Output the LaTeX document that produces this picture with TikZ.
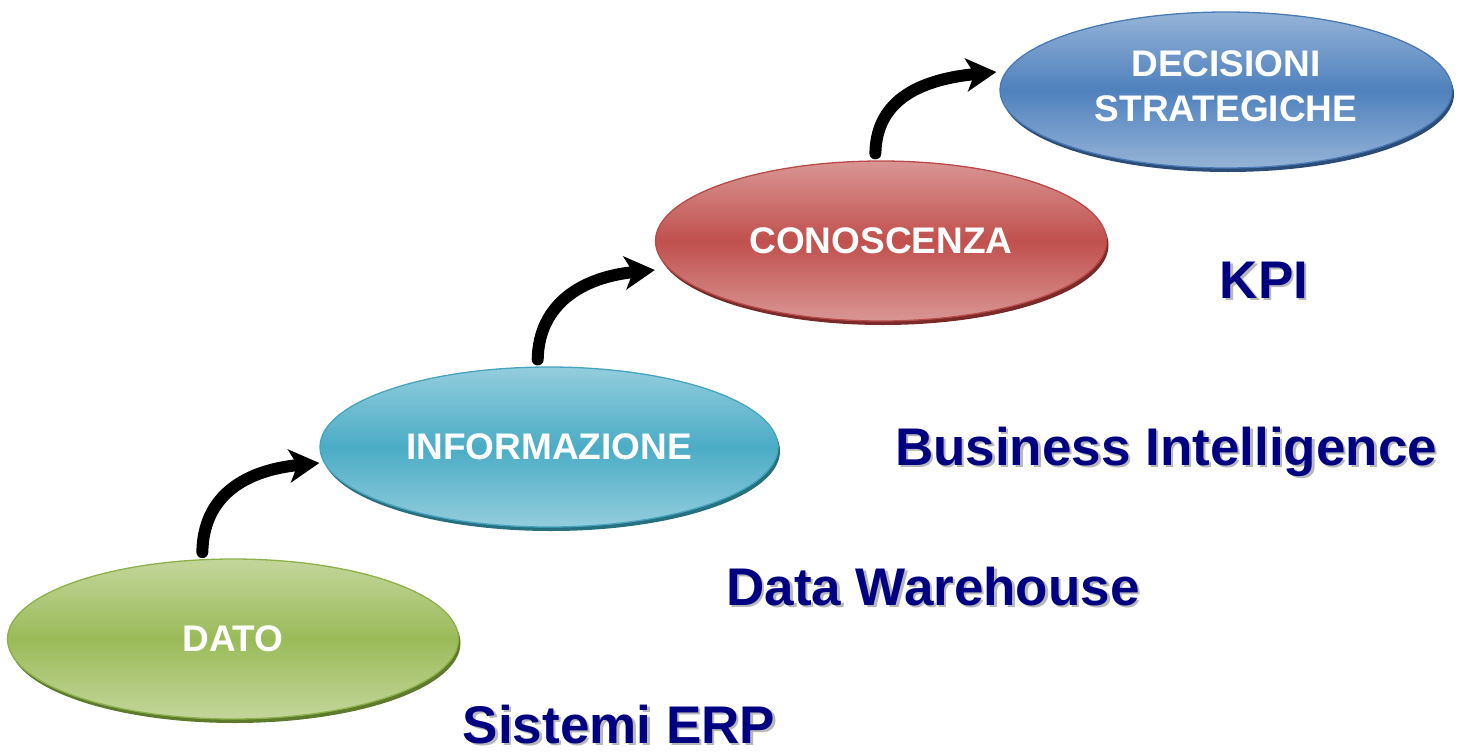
\documentclass[tikz,border=0pt]{standalone}
\usepackage{fontspec}
\setmainfont{Liberation Sans}
\usetikzlibrary{arrows.meta,shadows,shapes.geometric}
\definecolor{greenL}{HTML}{C3D69B}\definecolor{greenM}{HTML}{9BBB59}\definecolor{greenD}{HTML}{8CB04A}\definecolor{greenS}{HTML}{5E7A2C}
\definecolor{tealL}{HTML}{93CDDD}\definecolor{tealM}{HTML}{4BACC6}\definecolor{tealD}{HTML}{46A4BE}\definecolor{tealS}{HTML}{26707F}
\definecolor{redL}{HTML}{D99694}\definecolor{redM}{HTML}{C0504D}\definecolor{redD}{HTML}{B84A47}\definecolor{redS}{HTML}{7A2B29}
\definecolor{blueL}{HTML}{95B3D7}\definecolor{blueM}{HTML}{4F81BD}\definecolor{blueD}{HTML}{4A7AB5}\definecolor{blueS}{HTML}{2C4D78}
\definecolor{navyT}{HTML}{000080}\definecolor{shadowT}{HTML}{B8B8B8}
\newcommand\shtext[1]{\leavevmode\rlap{\kern2.5pt\raisebox{-2.5pt}{\color{shadowT}#1}}#1}
\tikzset{
  stage/.style={ellipse, inner sep=0pt, minimum width=451pt, minimum height=160pt,
    draw=#1D, line width=1.3pt, top color=#1L, bottom color=#1L, middle color=#1M,
    drop shadow={shadow xshift=2pt, shadow yshift=-4pt, fill=#1S, opacity=1},
    text=white, align=center, font=\bfseries\fontsize{37}{45}\selectfont},
  levellabel/.style={anchor=base, inner sep=0pt, outer sep=0pt, text=navyT, text depth=0pt, font=\bfseries\fontsize{53}{60}\selectfont},
  flow/.style={line width=12pt, line cap=round, -{Stealth[length=30pt,width=33pt,inset=8pt]}}
}
\begin{document}
\begin{tikzpicture}[x=1pt,y=-1pt]
\useasboundingbox (0,0) rectangle (1463,755);
\node[stage=green] (dato) at (233,639) {DATO};
\node[stage=teal, minimum width=458pt] (info) at (549,447) {INFORMAZIONE};
\node[stage=red] (cono) at (881,241) {CONOSCENZA};
\node[stage=blue, minimum width=452pt, minimum height=156pt] (deci) at (1226,90) {\raisebox{4pt}{\begin{tabular}{@{}c@{}}DECISIONI\\[0pt]STRATEGICHE\end{tabular}}};

\draw[flow] ([yshift=7pt]dato.111) .. controls +(1,-58) and +(-72,7) .. ([yshift=-16pt]info.west);
\draw[flow] ([yshift=7pt]info.98) .. controls +(1,-56) and +(-72,7) .. ([yshift=-29pt]cono.west);
\draw[flow] ([yshift=7pt]cono.94) .. controls +(1,-56) and +(-72,7) .. ([yshift=18pt,xshift=-3pt]deci.west);

\node[levellabel] (erp) at (619,743) {\shtext{Sistemi ERP}};
\node[levellabel] (dw) at (933,605) {\shtext{Data Warehouse}};
\node[levellabel] (bi) at (1166,465) {\shtext{Business Intelligence}};
\node[levellabel] (kpi) at (1264,298) {\shtext{KPI}};
\end{tikzpicture}
\end{document}
